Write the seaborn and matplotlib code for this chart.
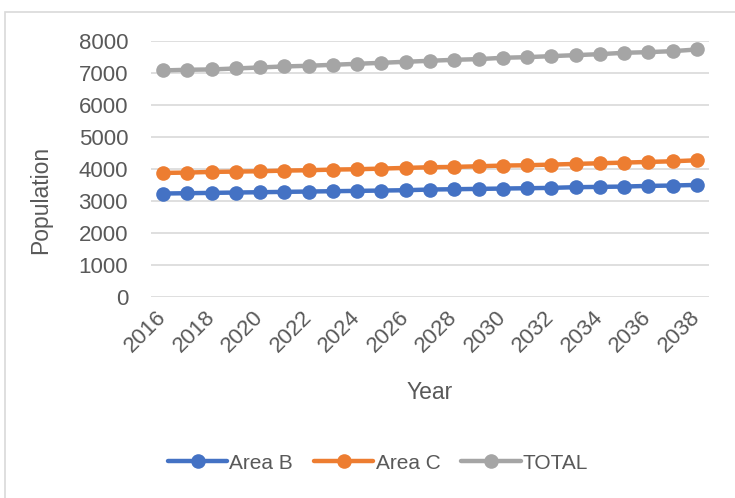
import matplotlib
matplotlib.use("Agg")
import matplotlib.pyplot as plt
import seaborn as sns
import pandas as pd
from matplotlib.patches import Rectangle

years = list(range(2016, 2039))
area_b = [3240, 3250, 3260, 3271, 3281, 3292, 3302, 3313, 3323, 3333, 3344, 3365,
          3375, 3385, 3396, 3406, 3417, 3438, 3448, 3458, 3479, 3490, 3510]
area_c = [3885, 3896, 3917, 3927, 3938, 3958, 3969, 3990, 4000, 4021, 4042, 4063,
          4073, 4094, 4115, 4125, 4146, 4167, 4188, 4208, 4229, 4250, 4281]
total = [7094, 7115, 7125, 7156, 7188, 7219, 7240, 7271, 7302, 7333, 7365, 7396,
         7427, 7448, 7490, 7510, 7542, 7573, 7604, 7646, 7667, 7698, 7750]
series_names = ["Area B", "Area C", "TOTAL"]
colors = ["#4472C4", "#ED7D31", "#A5A5A5"]
y_ticks = [0, 1000, 2000, 3000, 4000, 5000, 6000, 7000, 8000]
x_ticks = years[::2]

df = pd.DataFrame({
    "Year": years * 3,
    "Population": area_b + area_c + total,
    "Series": [series_names[0]] * len(years) + [series_names[1]] * len(years) + [series_names[2]] * len(years),
})

sns.set_theme(style="white")
plt.rcParams["font.family"] = ["Liberation Sans", "DejaVu Sans"]
text_color = "#595959"

fig = plt.figure(figsize=(7.35, 4.98), dpi=100)
ax = fig.add_axes([151 / 735, 1 - 297 / 498, (709 - 151) / 735, (297 - 41.5) / 498])

sns.lineplot(data=df, x="Year", y="Population", hue="Series", hue_order=series_names,
             palette=colors, marker="o", markersize=10.5, markeredgewidth=0,
             linewidth=3.2, ax=ax, legend=True)

ax.set_xlim(2015.5, 2038.5)
ax.set_ylim(0, 8000)
ax.set_yticks(y_ticks)
ax.set_yticklabels([str(v) for v in y_ticks])
ax.set_xticks(x_ticks)
ax.set_xticklabels([str(v) for v in x_ticks], rotation=45, ha="right", va="center",
                   rotation_mode="anchor")
ax.tick_params(axis="both", labelsize=16, colors=text_color, length=0)
ax.tick_params(axis="y", pad=16.5)
ax.tick_params(axis="x", pad=12)
ax.grid(axis="y", color="#D9D9D9", linewidth=1.2)
ax.grid(axis="x", visible=False)
ax.set_axisbelow(True)
for s in ax.spines.values():
    s.set_visible(False)

ax.set_xlabel("Year", fontsize=16.5, color=text_color)
ax.set_ylabel("Population", fontsize=16.5, color=text_color)
ax.xaxis.set_label_coords(0.5, (297 - 381) / 256)
ax.yaxis.set_label_coords((52 - 151) / 558, (297 - 200) / 256)

handles, labels = ax.get_legend_handles_labels()
ax.get_legend().remove()
fig.legend(handles, labels, loc="center", bbox_to_anchor=(378 / 735, 1 - 463 / 498),
           ncol=3, frameon=False, fontsize=15, handlelength=2.85, handletextpad=0.1,
           columnspacing=1.0, labelcolor=text_color)

fig.patches.append(Rectangle((5 / 735, -0.1), 1.2, 1 - 12 / 498 + 0.1,
                             transform=fig.transFigure, fill=False,
                             edgecolor="#D9D9D9", linewidth=1.2))

fig.savefig("out.png", dpi=100, facecolor="white")
